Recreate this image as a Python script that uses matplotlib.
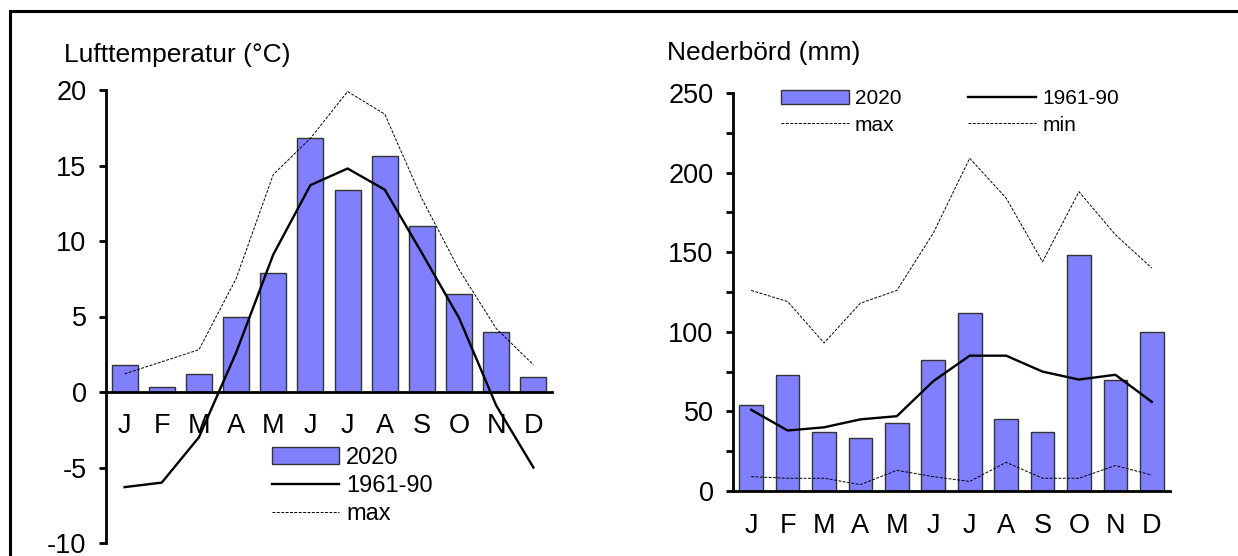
import numpy as np
import matplotlib
matplotlib.use("Agg")
import matplotlib.pyplot as plt
from matplotlib.patches import Rectangle

plt.rcParams['font.family'] = ['Liberation Sans', 'DejaVu Sans']
plt.rcParams['axes.unicode_minus'] = False

months = ["J", "F", "M", "A", "M", "J", "J", "A", "S", "O", "N", "D"]

# lufttemperatur (°C)
temp_2020 = [1.8, 0.3, 1.2, 5.0, 7.9, 16.8, 13.4, 15.6, 11.0, 6.5, 4.0, 1.0]
temp_normal = [-6.3, -6.0, -3.0, 2.6, 9.1, 13.7, 14.8, 13.4, 9.2, 4.9, -0.9, -5.0]
temp_max = [1.2, 2.0, 2.8, 7.5, 14.4, 16.8, 19.9, 18.4, 12.8, 8.1, 4.2, 1.8]

# nederbörd (mm)
prec_2020 = [54, 73, 37, 33, 43, 82, 112, 45, 37, 148, 70, 100]
prec_normal = [51, 38, 40, 45, 47, 69, 85, 85, 75, 70, 73, 56]
prec_max = [126, 119, 93, 118, 126, 162, 209, 184, 144, 188, 161, 140]
prec_min = [9, 8, 8, 4, 13, 9, 6, 18, 8, 8, 16, 10]

bar_col = "#8080ff"
x = np.arange(len(months))

fig = plt.figure(figsize=(12.38, 5.56), dpi=100)

# border around the whole thing
fig.patches.append(Rectangle((10/1238, -0.1), 1.2, 1 - 11/556 + 0.1, transform=fig.transFigure,
                             fill=False, edgecolor="black", linewidth=2.2))

ax1 = fig.add_axes([106/1238, 1 - 543/556, 446/1238, 453/556])
b1 = ax1.bar(x, temp_2020, width=0.7, color=bar_col, edgecolor="#333333", linewidth=1, label="2020", zorder=2)
l1, = ax1.plot(x, temp_normal, color="black", linewidth=1.7, label="1961-90", zorder=3)
l2, = ax1.plot(x, temp_max, color="black", linewidth=0.7, dashes=(3, 1.5), label="max", zorder=3)
ax1.set_xlim(-0.5, 11.5)
ax1.set_ylim(-10, 20)
ax1.set_yticks([-10, -5, 0, 5, 10, 15, 20])
ax1.set_xticks(x)
ax1.set_xticklabels(months)
ax1.spines['bottom'].set_position(('data', 0))
for s in ['top', 'right']:
    ax1.spines[s].set_visible(False)
ax1.spines['left'].set_linewidth(2)
ax1.spines['bottom'].set_linewidth(2)
ax1.tick_params(axis='y', direction='out', length=5, width=2, labelsize=19.5, pad=9)
ax1.tick_params(axis='x', length=0, labelsize=19.5, pad=15)
ax1.text(-0.095, 1.078, "Lufttemperatur (°C)", transform=ax1.transAxes, fontsize=19, ha="left", va="center")
ax1.legend([b1, l1, l2], ["2020", "1961-90", "max"], loc="upper left", bbox_to_anchor=(0.345, 0.238),
           frameon=False, fontsize=17, handlelength=2.85, handletextpad=0.3, labelspacing=0.25, borderpad=0)

ax2 = fig.add_axes([733/1238, 1 - 491/556, 437/1238, 398/556])
b2 = ax2.bar(x, prec_2020, width=0.65, color=bar_col, edgecolor="#333333", linewidth=1, label="2020", zorder=2)
m1, = ax2.plot(x, prec_max, color="black", linewidth=0.7, dashes=(3, 1.5), label="max", zorder=3)
m2, = ax2.plot(x, prec_normal, color="black", linewidth=1.7, label="1961-90", zorder=3)
m3, = ax2.plot(x, prec_min, color="black", linewidth=0.7, dashes=(3, 1.5), label="min", zorder=3)
ax2.set_xlim(-0.5, 11.5)
ax2.set_ylim(0, 250)
ax2.set_yticks([0, 50, 100, 150, 200, 250])
ax2.set_yticks(np.arange(25, 250, 50), minor=True)
ax2.set_xticks(x)
ax2.set_xticklabels(months)
for s in ['top', 'right']:
    ax2.spines[s].set_visible(False)
ax2.spines['left'].set_linewidth(2)
ax2.spines['bottom'].set_linewidth(2)
ax2.tick_params(axis='y', which='both', direction='out', length=5, width=2, labelsize=19.5, pad=9)
ax2.tick_params(axis='x', length=0, labelsize=19.5, pad=16)
ax2.text(-0.15, 1.10, "Nederbörd (mm)", transform=ax2.transAxes, fontsize=19, ha="left", va="center")
ax2.legend([b2, m1, m2, m3], ["2020", "max", "1961-90", "min"], ncol=2, loc="upper left",
           bbox_to_anchor=(0.085, 1.035), frameon=False, fontsize=15, handlelength=3.27,
           handletextpad=0.3, labelspacing=0.35, columnspacing=3.2, borderpad=0)

fig.savefig("out.png", dpi=100)
